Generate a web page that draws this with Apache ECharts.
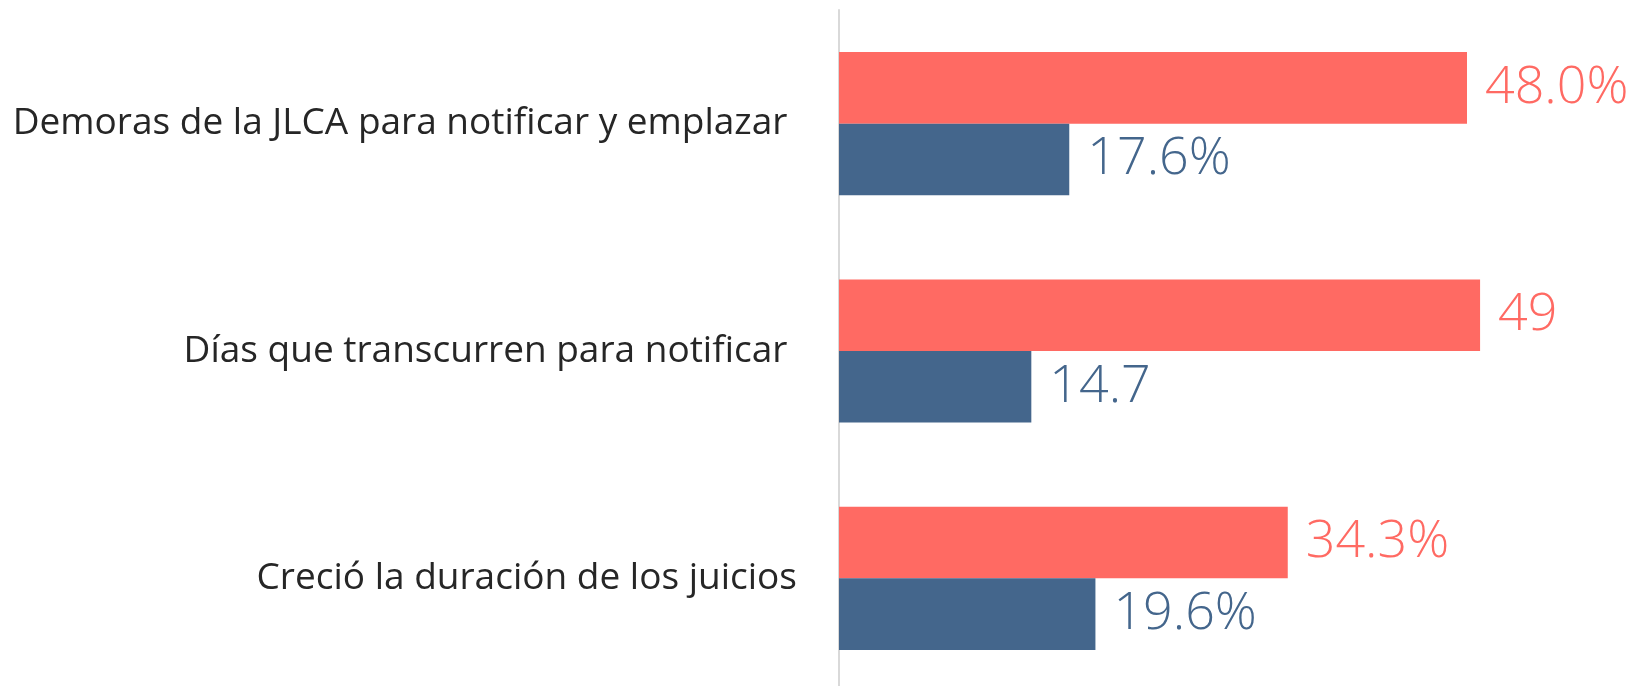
<!DOCTYPE html>
<html lang="es">
<head>
    <meta charset="UTF-8">
    <title>Notificaciones JLCA</title>
    <script src="https://cdn.jsdelivr.net/npm/echarts@6/dist/echarts.min.js"></script>
    <style>
        html, body { margin: 0; padding: 0; background: #fff; }
        #chart { width: 1633px; height: 686px; }
    </style>
</head>
<body>
<div id="chart"></div>
<script>
    // datos
    var categories = ['Demoras de la JLCA para notificar y emplazar ', 'Días que transcurren para notificar ', 'Creció la duración de los juicios'];
    var redValues = [48.0, 49, 34.3];
    var blueValues = [17.6, 14.7, 19.6];
    var redLabels = ['48.0%', '49', '34.3%'];
    var blueLabels = ['17.6%', '14.7', '19.6%'];

    var RED = '#ff6a63';
    var BLUE = '#44668c';

    var chart = echarts.init(document.getElementById('chart'));

    function labelOf(list, color) {
        return {
            show: true,
            position: 'right',
            distance: 18,
            color: color,
            fontFamily: 'Open Sans',
            fontWeight: 300,
            fontSize: 52,
            formatter: function (p) { return list[p.dataIndex]; }
        };
    }

    var option = {
        animation: false,
        // la rejilla sale un poco por abajo del lienzo, como en el original
        grid: { left: 839, top: 10, width: 785, height: 682, containLabel: false, outerBoundsMode: 'none' },
        xAxis: {
            type: 'value',
            min: 0,
            max: 60,
            show: false
        },
        yAxis: {
            type: 'category',
            inverse: true,
            data: categories,
            axisLine: { show: true, lineStyle: { color: '#d9d9d9', width: 2 } },
            axisTick: { show: false },
            axisLabel: {
                margin: 42,
                color: '#262626',
                fontFamily: 'Open Sans',
                fontSize: 37
            }
        },
        series: [
            {
                name: 'rojo',
                type: 'bar',
                data: redValues,
                barGap: '0%',
                barCategoryGap: '37%',
                itemStyle: { color: RED },
                label: labelOf(redLabels, RED)
            },
            {
                name: 'azul',
                type: 'bar',
                data: blueValues,
                itemStyle: { color: BLUE },
                label: labelOf(blueLabels, BLUE)
            }
        ]
    };
    chart.setOption(option);
</script>
</body>
</html>
